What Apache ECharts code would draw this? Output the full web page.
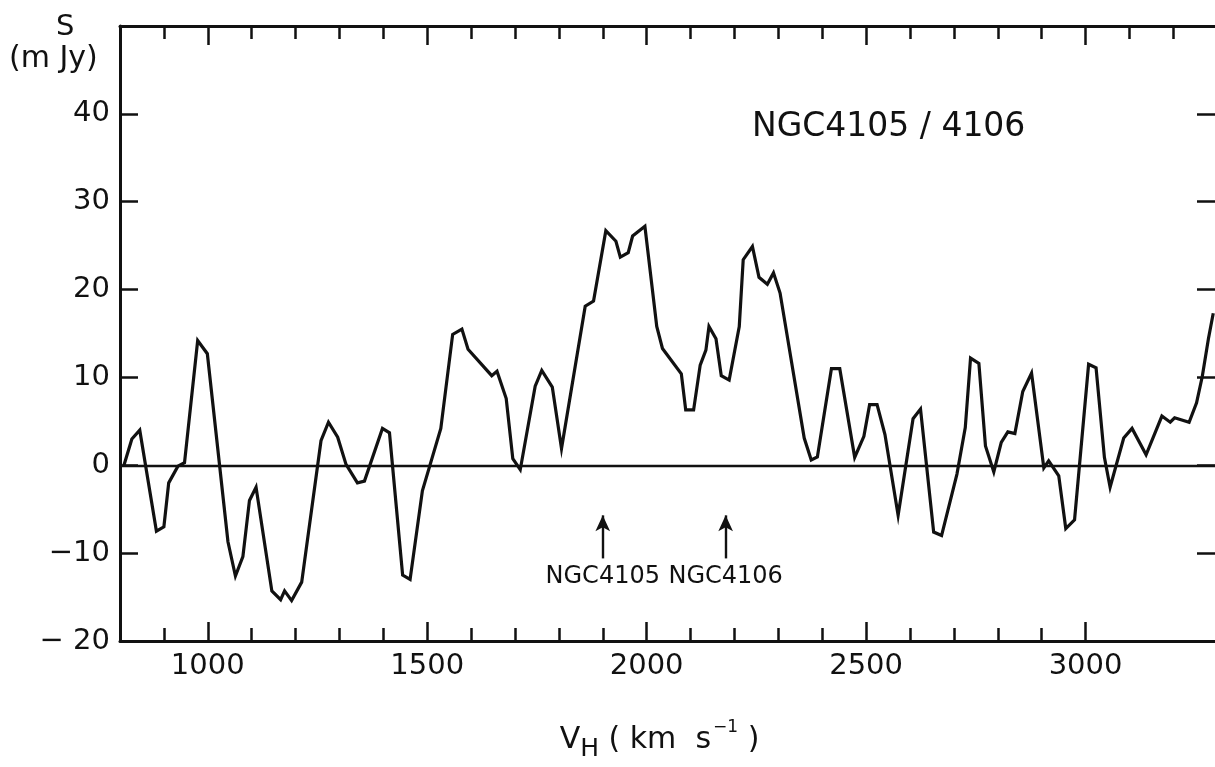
<!DOCTYPE html>
<html>
<head>
<meta charset="utf-8">
<title>NGC4105 / 4106</title>
<script src="https://cdn.jsdelivr.net/npm/echarts@6/dist/echarts.min.js"></script>
<style>
  html, body { margin: 0; padding: 0; background: #fff; }
  #chart { width: 1215px; height: 767px; }
</style>
</head>
<body>
<div id="chart"></div>
<script>
// heliocentric velocity (km/s) and flux density (mJy)
const velocity = [
  809, 827, 845, 883, 900, 911, 932, 947, 977, 999,
  1046, 1063, 1080, 1095, 1110, 1146, 1166, 1175, 1191, 1214,
  1258, 1275, 1296, 1315, 1341, 1357, 1398, 1414, 1444, 1461,
  1489, 1531, 1558, 1579, 1593, 1647, 1659, 1680, 1695, 1712,
  1746, 1761, 1785, 1806, 1860, 1879, 1907, 1930, 1940, 1958,
  1968, 1996, 2023, 2036, 2079, 2089, 2107, 2122, 2135, 2142,
  2158, 2170, 2188, 2211, 2220, 2241, 2256, 2275, 2289, 2304,
  2359, 2375, 2389, 2421, 2440, 2474, 2495, 2508, 2525, 2543,
  2573, 2607, 2624, 2654, 2672, 2707, 2726, 2738, 2757, 2772,
  2791, 2808, 2823, 2839, 2857, 2877, 2905, 2916, 2939, 2955,
  2975, 3007, 3024, 3043, 3056, 3087, 3106, 3138, 3174, 3193,
  3203, 3236, 3253, 3266, 3280, 3291
];
const flux = [
  0, 3.0, 4.0, -7.5, -7.0, -2.0, -0.1, 0.3, 14.2, 12.7,
  -8.7, -12.6, -10.4, -4.0, -2.5, -14.3, -15.3, -14.3, -15.4, -13.3,
  2.8, 4.9, 3.2, 0.1, -2.0, -1.8, 4.2, 3.7, -12.5, -13.0,
  -2.9, 4.2, 14.9, 15.5, 13.2, 10.2, 10.7, 7.6, 0.75, -0.5,
  9.0, 10.8, 8.9, 1.9, 18.1, 18.7, 26.7, 25.5, 23.7, 24.2,
  26.1, 27.2, 15.8, 13.3, 10.4, 6.3, 6.3, 11.4, 13.1, 15.8,
  14.4, 10.2, 9.7, 15.8, 23.4, 24.9, 21.4, 20.6, 21.9, 19.6,
  3.1, 0.6, 0.95, 11.0, 11.0, 0.9, 3.3, 6.9, 6.9, 3.5,
  -5.7, 5.3, 6.4, -7.6, -8.0, -1.0, 4.3, 12.2, 11.6, 2.2,
  -0.75, 2.6, 3.8, 3.6, 8.4, 10.5, -0.3, 0.5, -1.2, -7.2,
  -6.2, 11.5, 11.1, 0.9, -2.5, 3.1, 4.2, 1.2, 5.6, 4.9,
  5.4, 4.9, 7.1, 10.1, 14.4, 17.3
];

// optical velocities of the two galaxies (arrows)
const galaxyNames = ["NGC4105", "NGC4106"];
const galaxyVel = [1900, 2180];
const arrowFrom = -10.6;
const arrowTo = -5.7;

const xMajorTicks = [1000, 1500, 2000, 2500, 3000];
const xMinorBottom = [900, 1100, 1200, 1300, 1400, 1600, 1700, 1800, 1900,
  2100, 2200, 2300, 2400, 2600, 2700, 2800, 2900];
const xMinorTop = xMinorBottom.concat([3100, 3200]);
const yTicks = [-10, 0, 10, 20, 30, 40];
const yLabels = [-20, -10, 0, 10, 20, 30, 40];

const ink = "#111";
const font = "DejaVu Sans";

const chart = echarts.init(document.getElementById("chart"));

function frameAxis(pos, ticks, len, showLine, labels) {
  return {
    type: "value",
    position: pos,
    min: 800,
    max: 3295,
    axisLine: { show: showLine, onZero: false, lineStyle: { color: ink, width: 3 } },
    axisTick: {
      show: true, inside: true, length: len, customValues: ticks,
      lineStyle: { color: ink, width: 2.5 }
    },
    axisLabel: labels
      ? {
          show: true, customValues: labels, color: ink, fontFamily: font, fontSize: 29, margin: 11,
          formatter: v => String(v)
        }
      : { show: false },
    splitLine: { show: false }
  };
}

const bottomAxis = frameAxis("bottom", xMajorTicks, 19, true, xMajorTicks);
bottomAxis.name = "{t|V}{sub|H}{t| ( km  s}{sup|−1}{t| )}";
bottomAxis.nameLocation = "middle";
bottomAxis.nameGap = 78;
bottomAxis.nameTextStyle = {
  color: ink, fontFamily: font, fontSize: 30, padding: [0, 16, 0, 0],
  rich: {
    t: { fontSize: 30, fontFamily: font, color: ink },
    sub: { fontSize: 25, fontFamily: font, color: ink, padding: [18, 0, 0, 0] },
    sup: { fontSize: 17, fontFamily: font, color: ink, padding: [0, 0, 26, 2] }
  }
};

const option = {
  animation: false,
  backgroundColor: "#fff",
  grid: { left: 120, top: 26, right: -2, bottom: 123, containLabel: false },
  xAxis: [
    bottomAxis,
    frameAxis("bottom", xMinorBottom, 13, false, null),
    frameAxis("top", xMajorTicks, 19, true, null),
    frameAxis("top", xMinorTop, 13, false, null)
  ],
  yAxis: [
    {
      type: "value",
      position: "left",
      min: -20,
      max: 50,
      interval: 10,
      axisLine: { show: true, onZero: false, lineStyle: { color: ink, width: 3 } },
      axisTick: { show: true, inside: true, length: 18, customValues: yTicks, lineStyle: { color: ink, width: 2.5 } },
      axisLabel: {
        customValues: yLabels, color: ink, fontFamily: font, fontSize: 29, margin: 10,
        formatter: v => (v < 0 ? "−" + (v === -20 ? " " : "") + Math.abs(v) : String(v))
      },
      splitLine: { show: false }
    },
    {
      type: "value",
      position: "right",
      min: -20,
      max: 50,
      interval: 10,
      axisLine: { show: false },
      axisTick: { show: true, inside: true, length: 18, customValues: yTicks, lineStyle: { color: ink, width: 2.5 } },
      axisLabel: { show: false },
      splitLine: { show: false }
    }
  ],
  graphic: [
    { type: "text", left: 56, top: 13, style: { text: "S", fontFamily: font, fontSize: 29, fill: ink } },
    { type: "text", left: 9, top: 44, style: { text: "(m Jy)", fontFamily: font, fontSize: 30, fill: ink } },
    {
      type: "text", left: 752, top: 111,
      style: { text: "NGC4105 / 4106", fontFamily: font, fontSize: 33, fill: ink }
    }
  ],
  series: [
    {
      type: "line",
      xAxisIndex: 0,
      yAxisIndex: 0,
      data: velocity.map((v, i) => [v, flux[i]]),
      showSymbol: false,
      clip: true,
      lineStyle: { color: ink, width: 3.2, join: "miter" },
      silent: true,
      markLine: {
        silent: true,
        animation: false,
        data: [
          [
            { coord: [800, 0], symbol: "none" },
            { coord: [3295, 0], symbol: "none" }
          ]
        ].concat(galaxyVel.map((v, i) => [
          {
            coord: [v, arrowFrom], symbol: "none",
            label: {
              show: true, position: "start", formatter: galaxyNames[i], distance: 6,
              color: ink, fontFamily: font, fontSize: 24
            }
          },
          { coord: [v, arrowTo], symbol: "arrow", symbolSize: [11, 16] }
        ])),
        lineStyle: { color: ink, width: 2.4, type: "solid" },
        label: { show: false }
      }
    }
  ]
};

chart.setOption(option);
</script>
</body>
</html>
